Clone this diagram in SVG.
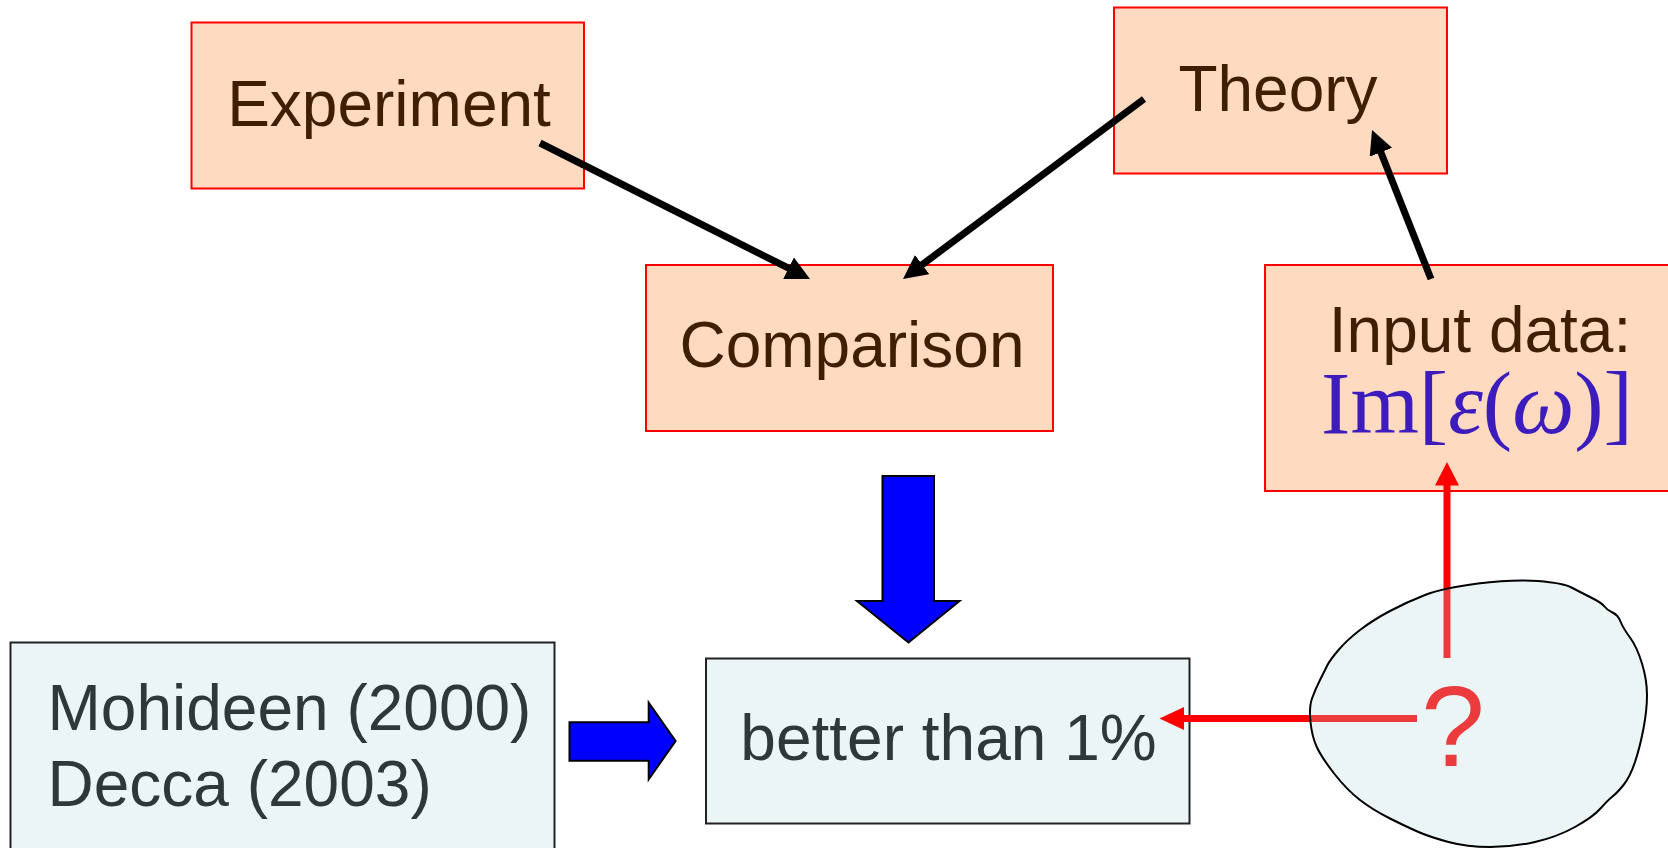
<svg xmlns="http://www.w3.org/2000/svg" width="1668" height="848" viewBox="0 0 1668 848">
  <style>
    .peach { fill: #fedac0; stroke: #ff0000; stroke-width: 2; }
    .pale { fill: #ecf5f6; stroke: #222222; stroke-width: 2; }
    .lbl { font-family: "Liberation Sans", Arial, sans-serif; font-size: 64px; text-anchor: middle; }
    .brown { fill: #3e1f05; }
    .grey { fill: #2f3838; }
    .conn { stroke: #000000; stroke-width: 7; fill: none; }
    .red { stroke: #ff0000; stroke-width: 7; fill: none; }
    .blue { fill: #0000ff; stroke: #000000; stroke-width: 2; stroke-linejoin: miter; }
  </style>
  <defs>
    <marker id="head" viewBox="0 0 24 24" markerWidth="24" markerHeight="24" refX="10" refY="12" orient="auto" markerUnits="userSpaceOnUse">
      <path d="M0,0 L24,12 L0,24 z" fill="#000000"/>
    </marker>
  </defs>

  <rect width="1668" height="848" fill="#ffffff"/>

  <g id="experiment">
    <rect class="peach" x="191.5" y="22.5" width="392.5" height="166"/>
    <text class="lbl brown" x="389" y="125.5">Experiment</text>
  </g>

  <g id="theory">
    <rect class="peach" x="1114" y="7.5" width="333" height="166"/>
    <text class="lbl brown" x="1278" y="110.5">Theory</text>
  </g>

  <g id="comparison">
    <rect class="peach" x="646" y="265" width="407" height="166"/>
    <text class="lbl brown" x="852" y="367">Comparison</text>
  </g>

  <g id="input-data">
    <rect class="peach" x="1265" y="265" width="410" height="226"/>
    <text class="lbl brown" x="1480" y="351.5">Input data:</text>
    <text x="1477" y="433" font-family="'Liberation Serif', 'Times New Roman', serif" font-size="88" fill="#3c1cbc" text-anchor="middle">Im[<tspan font-style="italic">ε</tspan>(<tspan font-style="italic">ω</tspan>)]</text>
  </g>

  <g id="experiments-list">
    <rect class="pale" x="10.5" y="642.5" width="544" height="220"/>
    <text class="lbl grey" x="47.5" y="730" style="text-anchor:start">Mohideen (2000)</text>
    <text class="lbl grey" x="47.5" y="806" style="text-anchor:start">Decca (2003)</text>
  </g>

  <g id="accuracy">
    <rect class="pale" x="706" y="658.5" width="483.5" height="165"/>
    <text class="lbl grey" x="948.5" y="760">better than 1%</text>
  </g>

  <g id="connectors">
    <line class="conn" x1="540" y1="143" x2="797.5" y2="272.7" marker-end="url(#head)"/>
    <line class="conn" x1="1144" y1="99" x2="914.2" y2="270.6" marker-end="url(#head)"/>
    <line class="conn" x1="1431" y1="279" x2="1377.2" y2="143" marker-end="url(#head)"/>

    <polygon class="blue" points="882.5,476 934,476 934,601 959.5,601 908.5,642.5 857,601 882.5,601"/>
    <polygon class="blue" points="569.5,722.3 648.7,722.3 648.7,702.7 675.6,741 648.7,779.3 648.7,760.7 569.5,760.7"/>

    <line class="red" x1="1447" y1="658" x2="1447" y2="484"/>
    <polygon points="1447,462 1459,485.5 1435,485.5" fill="#ff0000"/>
    <line class="red" x1="1417" y1="718.5" x2="1182" y2="718.5"/>
    <polygon points="1159.5,718.5 1184,707 1184,730" fill="#ff0000"/>
  </g>

  <g id="unknown-source">
    <text x="1453" y="766" font-family="'Liberation Sans', Arial, sans-serif" font-size="115" fill="#ff0000" text-anchor="middle">?</text>
    <path d="M1425,595 Q1443,588 1478,583.5 Q1513,579 1538,581 Q1563,583 1571.5,587.5 Q1580,592 1591,597.5 Q1602,603 1604.5,606.5 Q1607,610 1612.5,612.5 Q1618,615 1620.5,621.5 Q1623,628 1630,637.5 Q1637,647 1642,663.5 Q1647,680 1647,695 Q1647,710 1643.5,728.5 Q1640,747 1635,762 Q1630,777 1623.5,785 Q1617,793 1612.5,796.5 Q1608,800 1600.5,808.5 Q1593,817 1575,827 Q1557,837 1535,842 Q1513,847 1490,847 Q1467,847 1448.5,842 Q1430,837 1418.5,832 Q1407,827 1390,818.5 Q1373,810 1360,800 Q1347,790 1334.5,774 Q1322,758 1317,747.5 Q1312,737 1310.5,722 Q1309,707 1312,698.5 Q1315,690 1320,680 Q1325,670 1327.5,665 Q1330,660 1338.5,650 Q1347,640 1360,630 Q1373,620 1390,611 Q1407,602 1425,595 Z" fill="#b9dade" fill-opacity="0.27" stroke="#000000" stroke-width="2"/>
  </g>
</svg>
